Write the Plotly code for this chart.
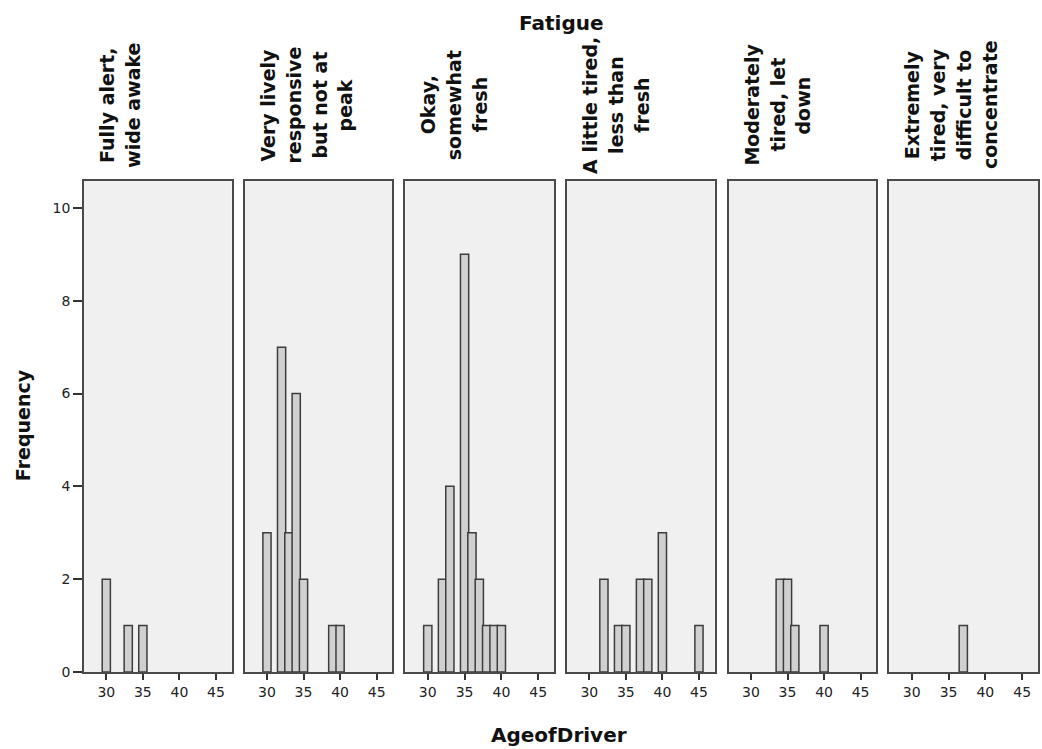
import plotly.graph_objects as go

# ---- data ----
categories = [
    "Fully alert, wide awake",
    "Very lively responsive but not at peak",
    "Okay, somewhat fresh",
    "A little tired, less than fresh",
    "Moderately tired, let down",
    "Extremely tired, very difficult to concentrate",
]
label_lines = [
    ["Fully alert,", "wide awake"],
    ["Very lively", "responsive", "but not at", "peak"],
    ["Okay,", "somewhat", "fresh"],
    ["A little tired,", "less than", "fresh"],
    ["Moderately", "tired, let", "down"],
    ["Extremely", "tired, very", "difficult to", "concentrate"],
]
ages_fully_alert = [30, 33, 35]
freq_fully_alert = [2, 1, 1]
ages_very_lively = [30, 32, 33, 34, 35, 39, 40]
freq_very_lively = [3, 7, 3, 6, 2, 1, 1]
ages_okay = [30, 32, 33, 35, 36, 37, 38, 39, 40]
freq_okay = [1, 2, 4, 9, 3, 2, 1, 1, 1]
ages_little_tired = [32, 34, 35, 37, 38, 40, 45]
freq_little_tired = [2, 1, 1, 2, 2, 3, 1]
ages_moderately = [34, 35, 36, 40]
freq_moderately = [2, 2, 1, 1]
ages_extremely = [37]
freq_extremely = [1]

x_ticks = [30, 35, 40, 45]
y_ticks = [0, 2, 4, 6, 8, 10]

panel_ages = [ages_fully_alert, ages_very_lively, ages_okay,
              ages_little_tired, ages_moderately, ages_extremely]
panel_freq = [freq_fully_alert, freq_very_lively, freq_okay,
              freq_little_tired, freq_moderately, freq_extremely]

# ---- layout geometry (pixels) ----
W, H = 1042, 749
m_l, m_r, m_t, m_b = 84, 2, 181, 77
plot_w = W - m_l - m_r
plot_h = H - m_t - m_b
panel_px = [(84, 232), (245, 393), (406, 555), (568, 716), (730, 878), (891, 1040)]

FONT = "DejaVu Sans"
frame_col = "#4a4a4a"

fig = go.Figure()
layout = dict(
    width=W, height=H,
    margin=dict(l=m_l, r=m_r, t=m_t, b=m_b),
    paper_bgcolor="white",
    plot_bgcolor="#f0f0f0",
    showlegend=False,
    font=dict(family=FONT, color="#222"),
)

annotations = []
for i in range(6):
    n = "" if i == 0 else str(i + 1)
    fig.add_trace(go.Bar(
        x=panel_ages[i], y=panel_freq[i], width=1.12,
        marker=dict(color="#d0d0d0", line=dict(color="#3c3c3c", width=1.5)),
        xaxis="x" + n, yaxis="y" + n, name=categories[i],
    ))
    x0, x1 = panel_px[i]
    layout["xaxis" + n] = dict(
        domain=[(x0 - m_l) / plot_w, (x1 - m_l) / plot_w],
        range=[26.95, 47.15], tickvals=x_ticks, ticks="outside", ticklen=6,
        tickcolor="#333", tickwidth=1.5,
        showline=True, mirror=True, linecolor=frame_col, linewidth=1.5,
        showgrid=False, zeroline=False, anchor="y" + n,
        tickfont=dict(family=FONT, size=14, color="#222"), fixedrange=True,
    )
    ya = dict(
        domain=[0, 1], range=[0, 10.58], anchor="x" + n,
        showline=True, mirror=True, linecolor=frame_col, linewidth=1.5,
        showgrid=False, zeroline=False, fixedrange=True,
    )
    if i == 0:
        ya.update(tickvals=y_ticks, ticks="outside", ticklen=9, tickcolor="#333",
                  tickwidth=1.5, tickfont=dict(family=FONT, size=14, color="#222"))
    else:
        ya.update(showticklabels=False, ticks="")
    layout["yaxis" + n] = ya

    # facet labels (rotated, one annotation per line)
    for j, line in enumerate(label_lines[i]):
        xp = x0 + 23 + 26 * j
        annotations.append(dict(
            text="<b>%s</b>" % line, textangle=-90, showarrow=False,
            xref="paper", yref="paper",
            x=(xp - m_l) / plot_w, y=(H - m_b - 105) / plot_h,
            xanchor="center", yanchor="middle",
            font=dict(family=FONT, size=19, color="#111"),
        ))

annotations.append(dict(
    text="<b>Fatigue</b>", showarrow=False, xref="paper", yref="paper",
    x=(562 - m_l) / plot_w, y=(H - m_b - 23) / plot_h,
    xanchor="center", yanchor="middle",
    font=dict(family=FONT, size=20, color="#111"),
))
annotations.append(dict(
    text="<b>AgeofDriver</b>", showarrow=False, xref="paper", yref="paper",
    x=(560 - m_l) / plot_w, y=(H - m_b - 735) / plot_h,
    xanchor="center", yanchor="middle",
    font=dict(family=FONT, size=20, color="#111"),
))
annotations.append(dict(
    text="<b>Frequency</b>", textangle=-90, showarrow=False,
    xref="paper", yref="paper",
    x=(23 - m_l) / plot_w, y=(H - m_b - 425) / plot_h,
    xanchor="center", yanchor="middle",
    font=dict(family=FONT, size=19, color="#111"),
))
layout["annotations"] = annotations

fig.update_layout(**layout)
fig.write_html(
    "out.html",
    config={"displayModeBar": False},
    post_script="document.body.style.margin='0px';document.body.style.overflow='hidden';",
)
